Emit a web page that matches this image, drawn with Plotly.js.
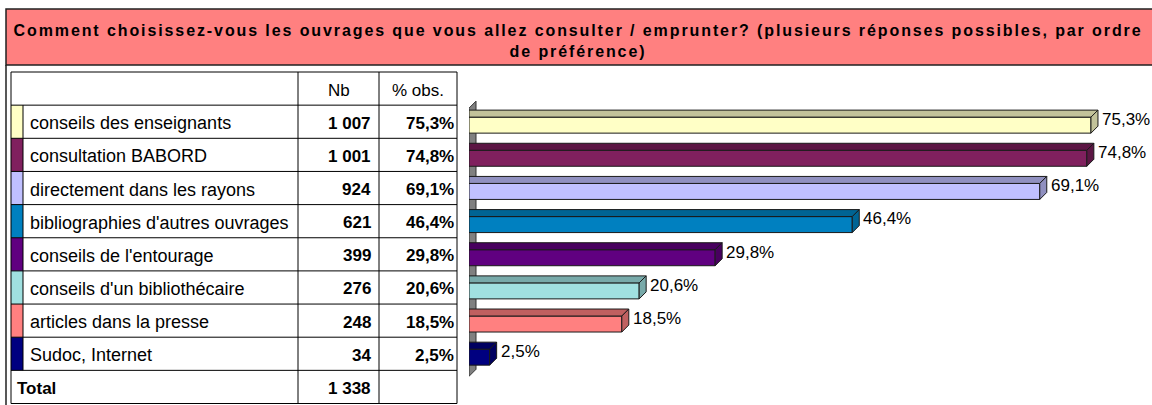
<!DOCTYPE html>
<html>
<head>
<meta charset="utf-8">
<script src="https://cdn.plot.ly/plotly-3.0.1.min.js"></script>
<style>
  html, body { margin: 0; padding: 0; background: #ffffff; }
  #chart { width: 1152px; height: 405px; }
  .gtitle { letter-spacing: 1.9px; }
</style>
</head>
<body>
<div id="chart"></div>
<script>
// ---------- data ----------
const titleText = 'Comment choisissez-vous les ouvrages que vous allez consulter / emprunter? (plusieurs réponses possibles, par ordre<br>de préférence)';
const categories = [
  'conseils des enseignants',
  'consultation BABORD',
  'directement dans les rayons',
  "bibliographies d'autres ouvrages",
  "conseils de l'entourage",
  "conseils d'un bibliothécaire",
  'articles dans la presse',
  'Sudoc, Internet'
];
const counts = [1007, 1001, 924, 621, 399, 276, 248, 34];
const percents = [75.3, 74.8, 69.1, 46.4, 29.8, 20.6, 18.5, 2.5];
const totalLabel = 'Total';
const totalCount = 1338;
const headerLabels = ['Nb', '% obs.'];
const frontColors = ['#FFFFC6', '#80205E', '#C0C0FF', '#0080C0', '#600080', '#A0E0E0', '#FF8080', '#000080'];
const topColors   = ['#C2C29A', '#5C1644', '#9090C0', '#006494', '#48005F', '#78AAAA', '#C06060', '#000060'];

// ---------- helpers ----------
const fmtCount = n => String(n).replace(/\B(?=(\d{3})+(?!\d))/g, '\u00a0');
const fmtPct = v => v.toFixed(1).replace('.', ',') + '%';

// geometry (layout constants)
const W = 1152, H = 405;
const PX_PER_PCT = 8.26;
const X0_PX = 469;
const xRangeMax = (W - X0_PX) / PX_PER_PCT;
const TABLE_TOP = 72, TABLE_BOTTOM = 403.5, NROWS = 10;
const unitPerPx = NROWS / (TABLE_BOTTOM - TABLE_TOP);
const yTopVal = -0.5 - TABLE_TOP * unitPerPx;
const yBotVal = 9.5 + (H - TABLE_BOTTOM) * unitPerPx;
const DEPTH_X = 7 / PX_PER_PCT;      // in % units
const DEPTH_Y = 7 * unitPerPx;       // in row units
const BAR_W = 16 * unitPerPx;
const BAR_OFF = 3.4 * unitPerPx - BAR_W / 2;
const COL = { left: 11, swatch: 23, label: 298, nb: 379, right: 457 };
const FONT = 'Liberation Sans, Arial, sans-serif';
const TEXT_SHIFT = -1.5;

const rows = categories.map((c, i) => i + 1);

// ---------- traces ----------
const traces = [{
  type: 'bar', orientation: 'h',
  x: percents, y: rows,
  width: BAR_W, offset: BAR_OFF,
  marker: { color: frontColors, line: { color: '#1a1a1a', width: 1 } },
  xaxis: 'x', yaxis: 'y',
  hoverinfo: 'skip', showlegend: false
}];

// ---------- shapes ----------
const shapes = [];
// title box
shapes.push({ type: 'rect', xref: 'paper', yref: 'paper', x0: 6 / W, x1: 1.01, y0: 1 - 65 / H, y1: 1 - 9 / H,
  fillcolor: '#FF8080', line: { color: '#202020', width: 1.5 }, layer: 'below' });
// outer left frame
shapes.push({ type: 'line', xref: 'paper', yref: 'paper', x0: 6 / W, x1: 6 / W, y0: 0, y1: 1 - 65 / H,
  line: { color: '#202020', width: 1.5 } });

// side wall of the 3D chart
const WALL_TOP = 1 - 0.41, WALL_BOT = 8 + 0.68;
shapes.push({ type: 'path', xref: 'x', yref: 'y', layer: 'below',
  path: `M0,${WALL_TOP} L${DEPTH_X},${WALL_TOP - DEPTH_Y} L${DEPTH_X},${WALL_BOT - DEPTH_Y} L0,${WALL_BOT} Z`,
  fillcolor: '#808080', line: { color: '#333333', width: 1 } });

// bar top and side faces
percents.forEach((v, i) => {
  const r = rows[i];
  const top = r + BAR_OFF, bot = top + BAR_W;
  shapes.push({ type: 'path', xref: 'x', yref: 'y', layer: 'above',
    path: `M0,${top} L${v},${top} L${v + DEPTH_X},${top - DEPTH_Y} L0,${top - DEPTH_Y} Z`,
    fillcolor: topColors[i], line: { color: '#1a1a1a', width: 1 } });
  shapes.push({ type: 'path', xref: 'x', yref: 'y', layer: 'above',
    path: `M${v},${top} L${v + DEPTH_X},${top - DEPTH_Y} L${v + DEPTH_X},${bot - DEPTH_Y} L${v},${bot} Z`,
    fillcolor: topColors[i], line: { color: '#1a1a1a', width: 1 } });
});

// table swatches
rows.forEach((r, i) => {
  shapes.push({ type: 'rect', xref: 'x2', yref: 'y', x0: COL.left, x1: COL.swatch, y0: r - 0.5, y1: r + 0.5,
    fillcolor: frontColors[i], line: { width: 0 }, layer: 'above' });
});
// table grid
const lineStyle = { color: '#000000', width: 1 };
for (let k = 0; k <= NROWS; k++) {
  shapes.push({ type: 'line', xref: 'x2', yref: 'y', x0: COL.left, x1: COL.right, y0: k - 0.5, y1: k - 0.5, line: lineStyle, layer: 'above' });
}
[COL.left, COL.label, COL.nb, COL.right].forEach(x => {
  shapes.push({ type: 'line', xref: 'x2', yref: 'y', x0: x, x1: x, y0: -0.5, y1: NROWS - 0.5, line: lineStyle, layer: 'above' });
});
shapes.push({ type: 'line', xref: 'x2', yref: 'y', x0: COL.swatch, x1: COL.swatch, y0: 0.5, y1: categories.length + 0.5, line: lineStyle, layer: 'above' });

// ---------- annotations ----------
const ann = [];
const base = { showarrow: false, borderpad: 0, font: { family: FONT, size: 17, color: '#000000' } };
const cell = Object.assign({}, base, { xref: 'x2', yref: 'y', yanchor: 'middle', yshift: TEXT_SHIFT });
// header
ann.push(Object.assign({}, cell, { x: (COL.label + COL.nb) / 2, y: 0, text: headerLabels[0], xanchor: 'center' }));
ann.push(Object.assign({}, cell, { x: (COL.nb + COL.right) / 2, y: 0, text: headerLabels[1], xanchor: 'center' }));
rows.forEach((r, i) => {
  ann.push(Object.assign({}, cell, { x: 29, y: r, text: categories[i], xanchor: 'left', font: { family: FONT, size: 18, color: '#000' } }));
  ann.push(Object.assign({}, cell, { x: 372, y: r, text: '<b>' + fmtCount(counts[i]) + '</b>', xanchor: 'right' }));
  ann.push(Object.assign({}, cell, { x: 455, y: r, text: '<b>' + fmtPct(percents[i]) + '</b>', xanchor: 'right' }));
  // bar value labels
  ann.push(Object.assign({}, base, { xref: 'x', yref: 'y', x: percents[i] + DEPTH_X, y: r - 0.07, text: fmtPct(percents[i]), xanchor: 'left', yanchor: 'middle', xshift: 3 }));
});
ann.push(Object.assign({}, cell, { x: 16, y: NROWS - 1, text: '<b>' + totalLabel + '</b>', xanchor: 'left' }));
ann.push(Object.assign({}, cell, { x: 372, y: NROWS - 1, text: '<b>' + fmtCount(totalCount) + '</b>', xanchor: 'right' }));

// ---------- layout ----------
const layout = {
  width: W, height: H,
  margin: { l: 0, r: 0, t: 0, b: 0 },
  paper_bgcolor: '#ffffff', plot_bgcolor: 'rgba(0,0,0,0)',
  showlegend: false, hovermode: false,
  title: { text: titleText, font: { family: FONT, size: 16, weight: 'bold', color: '#000000' },
           x: 578 / W, xanchor: 'center', xref: 'paper', y: 1 - 36 / H, yanchor: 'middle', yref: 'paper' },
  xaxis: { domain: [X0_PX / W, 1], range: [0, xRangeMax], visible: false, fixedrange: true, anchor: 'y' },
  xaxis2: { domain: [0, 1], range: [0, W], visible: false, fixedrange: true, anchor: 'y' },
  yaxis: { domain: [0, 1], range: [yBotVal, yTopVal], visible: false, fixedrange: true, anchor: 'x' },
  shapes: shapes,
  annotations: ann
};

Plotly.newPlot('chart', traces, layout, { displayModeBar: false, staticPlot: true });
</script>
</body>
</html>
